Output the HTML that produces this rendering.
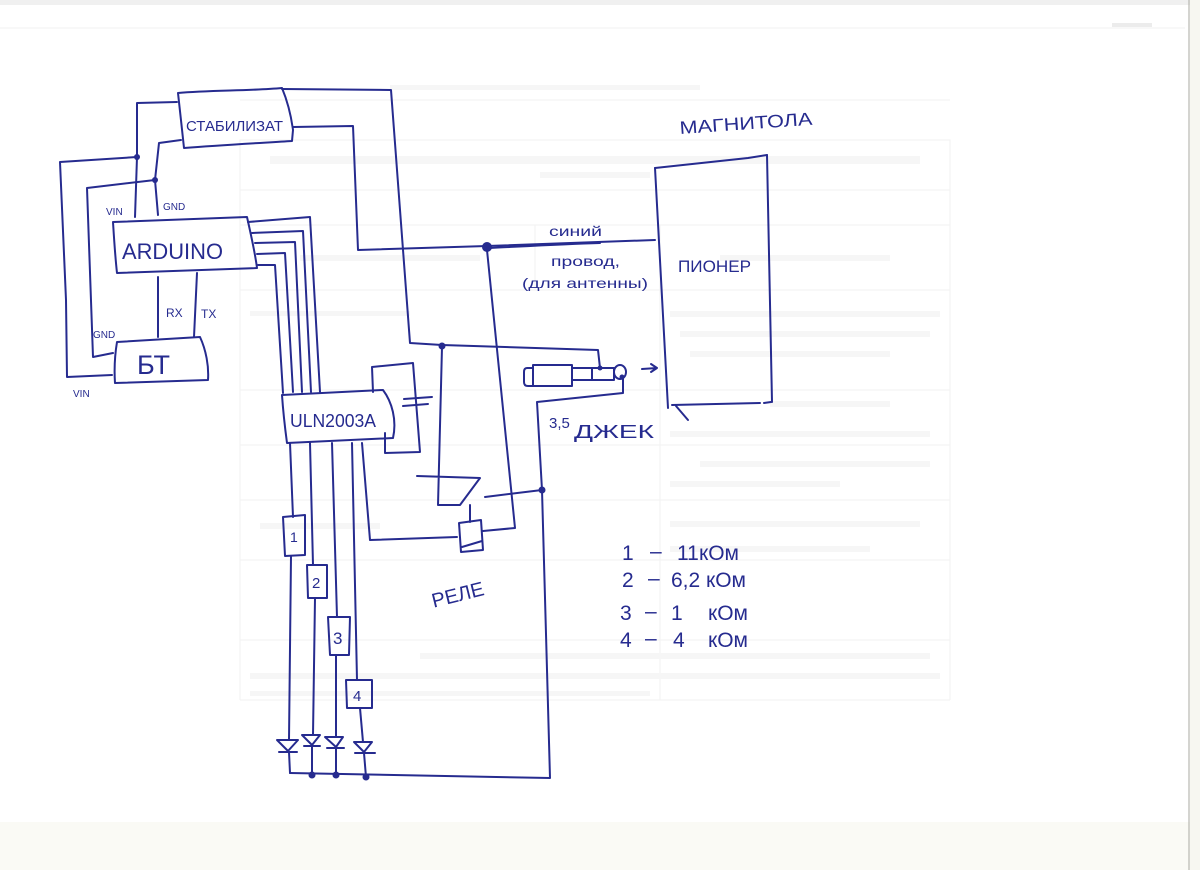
<!DOCTYPE html>
<html>
<head>
<meta charset="utf-8">
<style>
  html,body{margin:0;padding:0;background:#fff;}
  body{width:1200px;height:870px;overflow:hidden;}
  svg{display:block;}
  .p{fill:none;stroke:#262b8f;stroke-width:2;stroke-linecap:round;stroke-linejoin:round;}
  .t{fill:#262b8f;font-family:"Liberation Sans","DejaVu Sans",sans-serif;}
  .bg{fill:none;stroke:#f3f3f3;stroke-width:1.2;}
  .bgt{fill:#f6f6f6;}
</style>
</head>
<body>
<svg width="1200" height="870" viewBox="0 0 1200 870" xmlns="http://www.w3.org/2000/svg">
  <!-- paper -->
  <rect x="0" y="0" width="1200" height="870" fill="#ffffff"/>
  <rect x="0" y="0" width="1200" height="5" fill="#f0f0f0"/>
  <rect x="0" y="822" width="1200" height="48" fill="#fafaf5"/>
  <rect x="1190" y="0" width="10" height="870" fill="#f7f7f1"/>
  <line x1="1189" y1="0" x2="1189" y2="870" stroke="#b8b8b0" stroke-width="1.2"/>
  <rect x="1112" y="23" width="40" height="4" fill="#ececec"/>

  <!-- faint show-through of printed form -->
  <line class="bg" x1="0" y1="28" x2="1185" y2="28"/>
  <rect class="bgt" x="390" y="85" width="310" height="5"/>
  <line class="bg" x1="240" y1="100" x2="950" y2="100"/>
  <rect class="bg" x="240" y="140" width="710" height="50"/>
  <rect class="bgt" x="270" y="156" width="650" height="8"/>
  <rect class="bgt" x="540" y="172" width="110" height="6"/>
  <line class="bg" x1="240" y1="190" x2="240" y2="700"/>
  <line class="bg" x1="950" y1="190" x2="950" y2="700"/>
  <line class="bg" x1="660" y1="225" x2="660" y2="700"/>
  <line class="bg" x1="535" y1="225" x2="535" y2="290"/>
  <line class="bg" x1="240" y1="225" x2="950" y2="225"/>
  <line class="bg" x1="240" y1="290" x2="950" y2="290"/>
  <rect class="bgt" x="300" y="255" width="180" height="6"/>
  <rect class="bgt" x="720" y="255" width="170" height="6"/>
  <rect class="bgt" x="250" y="311" width="160" height="5"/>
  <rect class="bgt" x="670" y="311" width="270" height="6"/>
  <rect class="bgt" x="680" y="331" width="250" height="6"/>
  <rect class="bgt" x="690" y="351" width="200" height="6"/>
  <line class="bg" x1="240" y1="390" x2="950" y2="390"/>
  <rect class="bgt" x="770" y="401" width="120" height="6"/>
  <rect class="bgt" x="670" y="431" width="260" height="6"/>
  <line class="bg" x1="240" y1="445" x2="950" y2="445"/>
  <rect class="bgt" x="700" y="461" width="230" height="6"/>
  <rect class="bgt" x="670" y="481" width="170" height="6"/>
  <line class="bg" x1="240" y1="500" x2="950" y2="500"/>
  <rect class="bgt" x="670" y="521" width="250" height="6"/>
  <rect class="bgt" x="260" y="523" width="120" height="6"/>
  <rect class="bgt" x="670" y="546" width="200" height="6"/>
  <line class="bg" x1="240" y1="560" x2="950" y2="560"/>
  <line class="bg" x1="240" y1="640" x2="950" y2="640"/>
  <rect class="bgt" x="420" y="653" width="510" height="6"/>
  <rect class="bgt" x="250" y="673" width="690" height="6"/>
  <rect class="bgt" x="250" y="691" width="400" height="5"/>
  <line class="bg" x1="240" y1="700" x2="950" y2="700"/>

  <!-- ===== Handwritten schematic ===== -->

  <!-- Stabilizer box -->
  <path class="p" d="M178,93 C210,90 250,91 282,88 C287,100 291,115 293,130 L292,141 C260,143 222,145 184,148 C182,130 180,110 178,93 Z"/>
  <text class="t" x="186" y="131" font-size="15" textLength="97" lengthAdjust="spacingAndGlyphs">СТАБИЛИЗАТ</text>

  <!-- VIN wiring -->
  <path class="p" d="M135,217 L137,157 L137,103 L177,102"/>
  <path class="p" d="M137,157 L60,162 L66,300 L67,377 L112,375"/>
  <circle cx="137" cy="157" r="3" fill="#262b8f"/>
  <!-- GND wiring -->
  <path class="p" d="M158,215 L155,180 L159,143 L181,140"/>
  <path class="p" d="M155,180 L87,188 L93,357 L113,353"/>
  <circle cx="155" cy="180" r="3" fill="#262b8f"/>

  <text class="t" x="106" y="215" font-size="10">VIN</text>
  <text class="t" x="163" y="210" font-size="10">GND</text>
  <text class="t" x="93" y="338" font-size="10">GND</text>
  <text class="t" x="73" y="397" font-size="10">VIN</text>

  <!-- Arduino -->
  <path class="p" d="M113,222 L247,217 C251,235 255,252 257,268 L117,273 C115,255 114,238 113,222 Z"/>
  <text class="t" x="122" y="259" font-size="22" textLength="101" lengthAdjust="spacingAndGlyphs">ARDUINO</text>

  <!-- RX / TX -->
  <path class="p" d="M158,277 L158,337"/>
  <path class="p" d="M197,273 L194,337"/>
  <text class="t" x="166" y="317" font-size="12">RX</text>
  <text class="t" x="201" y="318" font-size="12">TX</text>

  <!-- BT -->
  <path class="p" d="M117,342 L200,337 C206,350 209,366 208,380 L115,383 C114,368 115,354 117,342 Z"/>
  <text class="t" x="137" y="374" font-size="27">БТ</text>

  <!-- Arduino -> ULN bus -->
  <path class="p" d="M248,222 L310,217 L320,392"/>
  <path class="p" d="M252,233 L303,231 L311,392"/>
  <path class="p" d="M255,243 L295,242 L302,392"/>
  <path class="p" d="M257,254 L285,253 L293,392"/>
  <path class="p" d="M258,265 L275,265 L283,393"/>

  <!-- ULN2003A -->
  <path class="p" d="M282,395 L383,390 C392,402 397,420 393,438 L287,443 C285,428 283,410 282,395 Z"/>
  <text class="t" x="290" y="427" font-size="18" textLength="86" lengthAdjust="spacingAndGlyphs">ULN2003A</text>

  <!-- capacitor loop -->
  <path class="p" d="M373,392 L372,367 L413,363 L420,452 L385,453 L385,433"/>
  <path class="p" d="M404,399 L432,397"/>
  <path class="p" d="M403,406 L428,404"/>

  <!-- stabilizer outputs -->
  <path class="p" d="M282,89 L391,90 L410,343 L442,345 L598,350 L600,368"/>
  <path class="p" d="M293,127 L353,126 L358,250 L487,246 L655,240"/>
  <path class="p" d="M490,248 C530,246 565,244 600,243"/>
  <circle cx="487" cy="247" r="5" fill="#262b8f"/>
  <circle cx="442" cy="346" r="3.5" fill="#262b8f"/>

  <!-- antenna wire down to relay coil -->
  <path class="p" d="M487,250 L515,528 L483,531"/>

  <!-- relay switch -->
  <path class="p" d="M442,347 L438,505 L460,505 L480,478 L417,476"/>
  <path class="p" d="M470,505 L470,522"/>
  <path class="p" d="M485,497 L542,490"/>
  <circle cx="542" cy="490" r="3.5" fill="#262b8f"/>

  <!-- relay coil -->
  <path class="p" d="M459,523 L481,520 L483,550 L461,552 Z"/>
  <path class="p" d="M462,547 L482,541"/>
  <text class="t" x="430" y="602" font-size="20" transform="rotate(-14 455 590)">РЕЛЕ</text>

  <!-- ground return -->
  <path class="p" d="M623,377 L623,393 L537,402 L542,490 L550,778 L290,773"/>

  <!-- ULN outputs -->
  <path class="p" d="M362,443 L370,540 L457,537"/>
  <path class="p" d="M290,443 L293,517"/>
  <path class="p" d="M283,517 L305,515 L305,555 L285,556 Z"/>
  <text class="t" x="290" y="542" font-size="14">1</text>
  <path class="p" d="M291,556 L289,740"/>

  <path class="p" d="M310,443 L313,565"/>
  <path class="p" d="M307,565 L327,565 L327,598 L308,598 Z"/>
  <text class="t" x="312" y="588" font-size="15">2</text>
  <path class="p" d="M315,598 L313,735"/>

  <path class="p" d="M332,443 L337,617"/>
  <path class="p" d="M328,617 L350,617 L349,655 L330,655 Z"/>
  <text class="t" x="333" y="644" font-size="17">3</text>
  <path class="p" d="M336,655 L336,737"/>

  <path class="p" d="M352,443 L357,680"/>
  <path class="p" d="M346,680 L372,680 L372,708 L347,708 Z"/>
  <text class="t" x="353" y="701" font-size="15">4</text>
  <path class="p" d="M360,708 L363,742"/>

  <!-- diodes -->
  <path class="p" d="M277,740 L298,740 L288,751 Z"/><path class="p" d="M279,752 L297,752"/><path class="p" d="M289,752 L290,773"/>
  <path class="p" d="M302,735 L320,735 L312,745 Z"/><path class="p" d="M304,746 L320,746"/><path class="p" d="M312,746 L312,775"/>
  <path class="p" d="M325,737 L343,737 L336,747 Z"/><path class="p" d="M327,748 L344,748"/><path class="p" d="M336,748 L336,775"/>
  <path class="p" d="M354,742 L372,742 L364,752 Z"/><path class="p" d="M355,753 L375,753"/><path class="p" d="M364,753 L366,777"/>
  <circle cx="312" cy="775" r="3.5" fill="#262b8f"/>
  <circle cx="336" cy="775" r="3.5" fill="#262b8f"/>
  <circle cx="366" cy="777" r="3.5" fill="#262b8f"/>

  <!-- 3.5 jack -->
  <path class="p" d="M533,368 L527,368 Q524,368 524,372 L524,382 Q524,386 528,386 L533,386"/>
  <path class="p" d="M533,365 L572,365 L572,386 L533,386 Z"/>
  <path class="p" d="M572,368 L614,368 L614,380 L572,380"/>
  <path class="p" d="M592,368 L592,380"/>
  <ellipse class="p" cx="620" cy="372" rx="6" ry="7"/>
  <circle cx="600" cy="368" r="2.5" fill="#262b8f"/>
  <circle cx="622" cy="377" r="2.5" fill="#262b8f"/>
  <path class="p" d="M642,369 L657,368 M651,364 L657,368 L651,372"/>
  <text class="t" x="549" y="428" font-size="15">3,5</text>
  <text class="t" x="574" y="438" font-size="18" textLength="80" lengthAdjust="spacingAndGlyphs">ДЖЕК</text>

  <!-- Pioneer head unit -->
  <path class="p" d="M655,168 C690,164 720,161 748,158 L767,155"/>
  <path class="p" d="M655,168 L668,408"/>
  <path class="p" d="M767,155 L772,402"/>
  <path class="p" d="M672,405 L760,403 M764,403 L771,402"/>
  <path class="p" d="M676,406 L688,420" stroke-width="1.2"/>
  <text class="t" x="678" y="272" font-size="17" textLength="73" lengthAdjust="spacingAndGlyphs">ПИОНЕР</text>
  <text class="t" x="680" y="134" font-size="18" textLength="133" lengthAdjust="spacingAndGlyphs" transform="rotate(-4 680 134)">МАГНИТОЛА</text>

  <text class="t" x="549" y="236" font-size="14" textLength="53" lengthAdjust="spacingAndGlyphs">синий</text>
  <text class="t" x="551" y="266" font-size="14" textLength="69" lengthAdjust="spacingAndGlyphs">провод,</text>
  <text class="t" x="522" y="288" font-size="14" textLength="126" lengthAdjust="spacingAndGlyphs">(для антенны)</text>

  <!-- resistor legend -->
  <g class="t" font-size="21">
    <text x="622" y="560">1</text><text x="650" y="558">–</text><text x="677" y="560">11</text><text x="699" y="560">кОм</text>
    <text x="622" y="587">2</text><text x="648" y="585">–</text><text x="671" y="587">6,2</text><text x="706" y="587">кОм</text>
    <text x="620" y="620">3</text><text x="645" y="618">–</text><text x="671" y="620">1</text><text x="708" y="620">кОм</text>
    <text x="620" y="647">4</text><text x="645" y="645">–</text><text x="673" y="647">4</text><text x="708" y="647">кОм</text>
  </g>
</svg>
</body>
</html>
